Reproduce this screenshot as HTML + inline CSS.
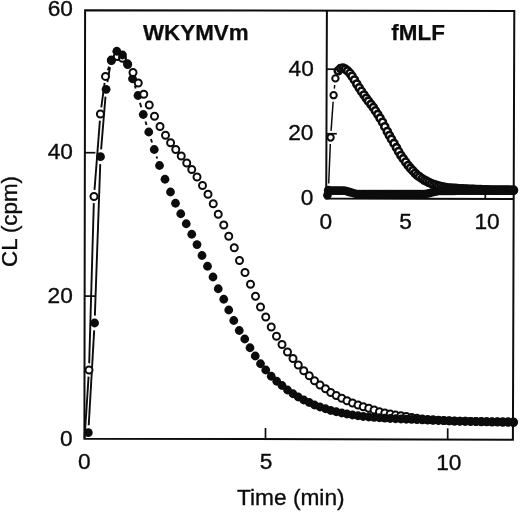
<!DOCTYPE html>
<html><head><meta charset="utf-8"><title>CL chart</title>
<style>html,body{margin:0;padding:0;background:#fff;}svg{display:block;filter:grayscale(1);}</style></head>
<body>
<svg width="520" height="512" viewBox="0 0 520 512">
<rect width="520" height="512" fill="#fff"/>
<g fill="none" stroke="#0c0c0c" stroke-width="2" stroke-linejoin="miter">
<polygon points="85.1,10.3 514.3,11 512.9,439.7 84.4,438.7"/>
<polyline points="326.9,10.6 326.2,198.5 513.4,198.9"/>
</g>
<g stroke="#0c0c0c" stroke-width="1.7">
<line x1="84.9" y1="152.7" x2="95.4" y2="152.7"/>
<line x1="84.7" y1="296.1" x2="95.2" y2="296.1"/>
<line x1="265.5" y1="428" x2="265.5" y2="439.2"/>
<line x1="447.7" y1="428.3" x2="447.7" y2="439.5"/>
<line x1="326.4" y1="69.2" x2="334.9" y2="69.2"/>
<line x1="326.3" y1="133.75" x2="336.8" y2="133.75"/>
<line x1="404.3" y1="190" x2="404.3" y2="198.6"/>
<line x1="485.3" y1="190" x2="485.3" y2="198.8"/>
</g>
<line x1="84.60" y1="438.00" x2="88.57" y2="376.59" stroke="#0c0c0c" stroke-width="1.9"/>
<line x1="89.19" y1="363.40" x2="93.81" y2="203.10" stroke="#0c0c0c" stroke-width="1.9"/>
<line x1="94.51" y1="189.92" x2="99.89" y2="120.58" stroke="#0c0c0c" stroke-width="1.9"/>
<line x1="101.29" y1="107.46" x2="104.61" y2="82.94" stroke="#0c0c0c" stroke-width="1.9"/>
<line x1="107.80" y1="70.21" x2="109.10" y2="66.69" stroke="#0c0c0c" stroke-width="1.9"/>
<line x1="88.72" y1="425.31" x2="94.18" y2="330.39" stroke="#0c0c0c" stroke-width="1.9"/>
<line x1="94.86" y1="315.60" x2="100.24" y2="164.10" stroke="#0c0c0c" stroke-width="1.9"/>
<line x1="101.11" y1="149.33" x2="105.49" y2="96.67" stroke="#0c0c0c" stroke-width="1.9"/>
<line x1="107.39" y1="82.01" x2="110.01" y2="67.29" stroke="#0c0c0c" stroke-width="1.9"/>
<line x1="129.84" y1="70.77" x2="130.16" y2="71.73" stroke="#0c0c0c" stroke-width="1.9"/>
<line x1="134.81" y1="85.78" x2="135.69" y2="88.47" stroke="#0c0c0c" stroke-width="1.9"/>
<line x1="139.97" y1="102.63" x2="141.28" y2="107.37" stroke="#0c0c0c" stroke-width="1.9"/>
<line x1="145.47" y1="121.56" x2="146.53" y2="124.94" stroke="#0c0c0c" stroke-width="1.9"/>
<line x1="150.97" y1="139.06" x2="152.03" y2="142.44" stroke="#0c0c0c" stroke-width="1.9"/>
<line x1="156.56" y1="156.53" x2="157.19" y2="158.47" stroke="#0c0c0c" stroke-width="1.9"/>
<circle cx="89.00" cy="370.00" r="3.5" fill="#fff" stroke="#0c0c0c" stroke-width="2.0"/>
<circle cx="94.00" cy="196.50" r="3.5" fill="#fff" stroke="#0c0c0c" stroke-width="2.0"/>
<circle cx="100.40" cy="114.00" r="3.5" fill="#fff" stroke="#0c0c0c" stroke-width="2.0"/>
<circle cx="105.50" cy="76.40" r="3.5" fill="#fff" stroke="#0c0c0c" stroke-width="2.0"/>
<circle cx="111.40" cy="60.50" r="3.5" fill="#fff" stroke="#0c0c0c" stroke-width="2.0"/>
<circle cx="117.30" cy="56.50" r="3.5" fill="#fff" stroke="#0c0c0c" stroke-width="2.0"/>
<circle cx="122.50" cy="58.30" r="3.5" fill="#fff" stroke="#0c0c0c" stroke-width="2.0"/>
<circle cx="127.70" cy="64.50" r="3.5" fill="#fff" stroke="#0c0c0c" stroke-width="2.0"/>
<circle cx="154.50" cy="116.25" r="3.5" fill="#fff" stroke="#0c0c0c" stroke-width="2.0"/>
<circle cx="160.00" cy="126.50" r="3.5" fill="#fff" stroke="#0c0c0c" stroke-width="2.0"/>
<circle cx="165.50" cy="135.25" r="3.5" fill="#fff" stroke="#0c0c0c" stroke-width="2.0"/>
<circle cx="170.60" cy="142.75" r="3.5" fill="#fff" stroke="#0c0c0c" stroke-width="2.0"/>
<circle cx="175.75" cy="149.50" r="3.5" fill="#fff" stroke="#0c0c0c" stroke-width="2.0"/>
<circle cx="181.25" cy="156.00" r="3.5" fill="#fff" stroke="#0c0c0c" stroke-width="2.0"/>
<circle cx="186.75" cy="163.00" r="3.5" fill="#fff" stroke="#0c0c0c" stroke-width="2.0"/>
<circle cx="191.75" cy="169.50" r="3.5" fill="#fff" stroke="#0c0c0c" stroke-width="2.0"/>
<circle cx="197.00" cy="177.00" r="3.5" fill="#fff" stroke="#0c0c0c" stroke-width="2.0"/>
<circle cx="202.50" cy="185.50" r="3.5" fill="#fff" stroke="#0c0c0c" stroke-width="2.0"/>
<circle cx="208.00" cy="194.25" r="3.5" fill="#fff" stroke="#0c0c0c" stroke-width="2.0"/>
<circle cx="213.25" cy="203.75" r="3.5" fill="#fff" stroke="#0c0c0c" stroke-width="2.0"/>
<circle cx="218.25" cy="214.25" r="3.5" fill="#fff" stroke="#0c0c0c" stroke-width="2.0"/>
<circle cx="223.75" cy="225.00" r="3.5" fill="#fff" stroke="#0c0c0c" stroke-width="2.0"/>
<circle cx="228.75" cy="236.25" r="3.5" fill="#fff" stroke="#0c0c0c" stroke-width="2.0"/>
<circle cx="234.25" cy="247.75" r="3.5" fill="#fff" stroke="#0c0c0c" stroke-width="2.0"/>
<circle cx="239.50" cy="260.50" r="3.5" fill="#fff" stroke="#0c0c0c" stroke-width="2.0"/>
<circle cx="245.00" cy="272.50" r="3.5" fill="#fff" stroke="#0c0c0c" stroke-width="2.0"/>
<circle cx="250.50" cy="284.25" r="3.5" fill="#fff" stroke="#0c0c0c" stroke-width="2.0"/>
<circle cx="255.50" cy="296.25" r="3.5" fill="#fff" stroke="#0c0c0c" stroke-width="2.0"/>
<circle cx="260.50" cy="307.00" r="3.5" fill="#fff" stroke="#0c0c0c" stroke-width="2.0"/>
<circle cx="265.75" cy="317.00" r="3.5" fill="#fff" stroke="#0c0c0c" stroke-width="2.0"/>
<circle cx="271.25" cy="327.00" r="3.5" fill="#fff" stroke="#0c0c0c" stroke-width="2.0"/>
<circle cx="276.50" cy="336.25" r="3.5" fill="#fff" stroke="#0c0c0c" stroke-width="2.0"/>
<circle cx="282.00" cy="344.50" r="3.5" fill="#fff" stroke="#0c0c0c" stroke-width="2.0"/>
<circle cx="287.50" cy="352.00" r="3.5" fill="#fff" stroke="#0c0c0c" stroke-width="2.0"/>
<circle cx="293.00" cy="358.50" r="3.5" fill="#fff" stroke="#0c0c0c" stroke-width="2.0"/>
<circle cx="298.25" cy="365.00" r="3.5" fill="#fff" stroke="#0c0c0c" stroke-width="2.0"/>
<circle cx="303.75" cy="370.75" r="3.5" fill="#fff" stroke="#0c0c0c" stroke-width="2.0"/>
<circle cx="309.25" cy="375.75" r="3.5" fill="#fff" stroke="#0c0c0c" stroke-width="2.0"/>
<circle cx="314.50" cy="380.75" r="3.5" fill="#fff" stroke="#0c0c0c" stroke-width="2.0"/>
<circle cx="320.00" cy="385.00" r="3.5" fill="#fff" stroke="#0c0c0c" stroke-width="2.0"/>
<circle cx="325.50" cy="388.75" r="3.5" fill="#fff" stroke="#0c0c0c" stroke-width="2.0"/>
<circle cx="330.75" cy="392.50" r="3.5" fill="#fff" stroke="#0c0c0c" stroke-width="2.0"/>
<circle cx="336.25" cy="395.50" r="3.5" fill="#fff" stroke="#0c0c0c" stroke-width="2.0"/>
<circle cx="341.75" cy="398.25" r="3.5" fill="#fff" stroke="#0c0c0c" stroke-width="2.0"/>
<circle cx="347.00" cy="400.75" r="3.5" fill="#fff" stroke="#0c0c0c" stroke-width="2.0"/>
<circle cx="352.50" cy="403.00" r="3.5" fill="#fff" stroke="#0c0c0c" stroke-width="2.0"/>
<circle cx="358.00" cy="405.00" r="3.5" fill="#fff" stroke="#0c0c0c" stroke-width="2.0"/>
<circle cx="363.25" cy="406.75" r="3.5" fill="#fff" stroke="#0c0c0c" stroke-width="2.0"/>
<circle cx="368.75" cy="408.25" r="3.5" fill="#fff" stroke="#0c0c0c" stroke-width="2.0"/>
<circle cx="374.11" cy="409.94" r="3.5" fill="#fff" stroke="#0c0c0c" stroke-width="2.0"/>
<circle cx="379.47" cy="411.63" r="3.5" fill="#fff" stroke="#0c0c0c" stroke-width="2.0"/>
<circle cx="384.83" cy="412.97" r="3.5" fill="#fff" stroke="#0c0c0c" stroke-width="2.0"/>
<circle cx="390.19" cy="414.04" r="3.5" fill="#fff" stroke="#0c0c0c" stroke-width="2.0"/>
<circle cx="395.55" cy="415.07" r="3.5" fill="#fff" stroke="#0c0c0c" stroke-width="2.0"/>
<circle cx="400.91" cy="415.72" r="3.5" fill="#fff" stroke="#0c0c0c" stroke-width="2.0"/>
<circle cx="406.27" cy="416.45" r="3.5" fill="#fff" stroke="#0c0c0c" stroke-width="2.0"/>
<circle cx="411.63" cy="417.41" r="3.5" fill="#fff" stroke="#0c0c0c" stroke-width="2.0"/>
<circle cx="416.99" cy="418.36" r="3.5" fill="#fff" stroke="#0c0c0c" stroke-width="2.0"/>
<circle cx="422.35" cy="419.06" r="3.5" fill="#fff" stroke="#0c0c0c" stroke-width="2.0"/>
<circle cx="427.71" cy="419.44" r="3.5" fill="#fff" stroke="#0c0c0c" stroke-width="2.0"/>
<circle cx="433.07" cy="419.81" r="3.5" fill="#fff" stroke="#0c0c0c" stroke-width="2.0"/>
<circle cx="438.43" cy="420.19" r="3.5" fill="#fff" stroke="#0c0c0c" stroke-width="2.0"/>
<circle cx="443.79" cy="420.48" r="3.5" fill="#fff" stroke="#0c0c0c" stroke-width="2.0"/>
<circle cx="449.15" cy="420.73" r="3.5" fill="#fff" stroke="#0c0c0c" stroke-width="2.0"/>
<circle cx="454.51" cy="420.98" r="3.5" fill="#fff" stroke="#0c0c0c" stroke-width="2.0"/>
<circle cx="459.87" cy="421.14" r="3.5" fill="#fff" stroke="#0c0c0c" stroke-width="2.0"/>
<circle cx="465.23" cy="421.29" r="3.5" fill="#fff" stroke="#0c0c0c" stroke-width="2.0"/>
<circle cx="470.59" cy="421.44" r="3.5" fill="#fff" stroke="#0c0c0c" stroke-width="2.0"/>
<circle cx="475.95" cy="421.59" r="3.5" fill="#fff" stroke="#0c0c0c" stroke-width="2.0"/>
<circle cx="481.31" cy="421.73" r="3.5" fill="#fff" stroke="#0c0c0c" stroke-width="2.0"/>
<circle cx="486.67" cy="421.86" r="3.5" fill="#fff" stroke="#0c0c0c" stroke-width="2.0"/>
<circle cx="492.03" cy="421.99" r="3.5" fill="#fff" stroke="#0c0c0c" stroke-width="2.0"/>
<circle cx="497.39" cy="422.12" r="3.5" fill="#fff" stroke="#0c0c0c" stroke-width="2.0"/>
<circle cx="502.75" cy="422.24" r="3.5" fill="#fff" stroke="#0c0c0c" stroke-width="2.0"/>
<circle cx="508.11" cy="422.37" r="3.5" fill="#fff" stroke="#0c0c0c" stroke-width="2.0"/>
<circle cx="513.47" cy="422.50" r="3.5" fill="#fff" stroke="#0c0c0c" stroke-width="2.0"/>
<circle cx="88.30" cy="432.70" r="4.4" fill="#0c0c0c"/>
<circle cx="94.60" cy="323.00" r="4.4" fill="#0c0c0c"/>
<circle cx="100.50" cy="156.70" r="4.4" fill="#0c0c0c"/>
<circle cx="106.10" cy="89.30" r="4.4" fill="#0c0c0c"/>
<circle cx="111.30" cy="60.00" r="4.4" fill="#0c0c0c"/>
<circle cx="116.80" cy="51.25" r="4.4" fill="#0c0c0c"/>
<circle cx="122.50" cy="55.00" r="4.4" fill="#0c0c0c"/>
<circle cx="127.50" cy="63.75" r="4.4" fill="#0c0c0c"/>
<circle cx="132.50" cy="78.75" r="4.4" fill="#0c0c0c"/>
<circle cx="138.00" cy="95.50" r="4.4" fill="#0c0c0c"/>
<circle cx="143.25" cy="114.50" r="4.4" fill="#0c0c0c"/>
<circle cx="148.75" cy="132.00" r="4.4" fill="#0c0c0c"/>
<circle cx="154.25" cy="149.50" r="4.4" fill="#0c0c0c"/>
<circle cx="159.50" cy="165.50" r="4.4" fill="#0c0c0c"/>
<circle cx="165.00" cy="179.25" r="4.4" fill="#0c0c0c"/>
<circle cx="170.50" cy="192.00" r="4.4" fill="#0c0c0c"/>
<circle cx="175.50" cy="203.25" r="4.4" fill="#0c0c0c"/>
<circle cx="180.75" cy="213.75" r="4.4" fill="#0c0c0c"/>
<circle cx="186.25" cy="223.75" r="4.4" fill="#0c0c0c"/>
<circle cx="191.75" cy="234.25" r="4.4" fill="#0c0c0c"/>
<circle cx="197.00" cy="244.60" r="4.4" fill="#0c0c0c"/>
<circle cx="202.00" cy="255.50" r="4.4" fill="#0c0c0c"/>
<circle cx="207.50" cy="266.25" r="4.4" fill="#0c0c0c"/>
<circle cx="213.00" cy="277.00" r="4.4" fill="#0c0c0c"/>
<circle cx="218.25" cy="288.75" r="4.4" fill="#0c0c0c"/>
<circle cx="223.75" cy="299.25" r="4.4" fill="#0c0c0c"/>
<circle cx="228.75" cy="310.00" r="4.4" fill="#0c0c0c"/>
<circle cx="233.75" cy="320.50" r="4.4" fill="#0c0c0c"/>
<circle cx="239.25" cy="330.50" r="4.4" fill="#0c0c0c"/>
<circle cx="244.75" cy="339.00" r="4.4" fill="#0c0c0c"/>
<circle cx="250.00" cy="347.75" r="4.4" fill="#0c0c0c"/>
<circle cx="255.25" cy="356.00" r="4.4" fill="#0c0c0c"/>
<circle cx="260.50" cy="363.75" r="4.4" fill="#0c0c0c"/>
<circle cx="265.75" cy="370.00" r="4.4" fill="#0c0c0c"/>
<circle cx="271.25" cy="376.25" r="4.4" fill="#0c0c0c"/>
<circle cx="276.75" cy="381.25" r="4.4" fill="#0c0c0c"/>
<circle cx="282.00" cy="385.50" r="4.4" fill="#0c0c0c"/>
<circle cx="287.50" cy="390.00" r="4.4" fill="#0c0c0c"/>
<circle cx="293.00" cy="393.75" r="4.4" fill="#0c0c0c"/>
<circle cx="298.25" cy="397.00" r="4.4" fill="#0c0c0c"/>
<circle cx="303.75" cy="400.00" r="4.4" fill="#0c0c0c"/>
<circle cx="309.25" cy="402.50" r="4.4" fill="#0c0c0c"/>
<circle cx="314.50" cy="405.00" r="4.4" fill="#0c0c0c"/>
<circle cx="320.00" cy="407.00" r="4.4" fill="#0c0c0c"/>
<circle cx="325.50" cy="408.75" r="4.4" fill="#0c0c0c"/>
<circle cx="330.75" cy="410.50" r="4.4" fill="#0c0c0c"/>
<circle cx="336.25" cy="411.75" r="4.4" fill="#0c0c0c"/>
<circle cx="341.75" cy="413.00" r="4.4" fill="#0c0c0c"/>
<circle cx="347.00" cy="414.00" r="4.4" fill="#0c0c0c"/>
<circle cx="352.50" cy="415.00" r="4.4" fill="#0c0c0c"/>
<circle cx="358.00" cy="415.75" r="4.4" fill="#0c0c0c"/>
<circle cx="363.25" cy="416.50" r="4.4" fill="#0c0c0c"/>
<circle cx="368.75" cy="417.00" r="4.4" fill="#0c0c0c"/>
<circle cx="374.11" cy="417.38" r="4.4" fill="#0c0c0c"/>
<circle cx="379.47" cy="417.76" r="4.4" fill="#0c0c0c"/>
<circle cx="384.83" cy="418.14" r="4.4" fill="#0c0c0c"/>
<circle cx="390.19" cy="418.51" r="4.4" fill="#0c0c0c"/>
<circle cx="395.55" cy="418.75" r="4.4" fill="#0c0c0c"/>
<circle cx="400.91" cy="418.99" r="4.4" fill="#0c0c0c"/>
<circle cx="406.27" cy="419.23" r="4.4" fill="#0c0c0c"/>
<circle cx="411.63" cy="419.47" r="4.4" fill="#0c0c0c"/>
<circle cx="416.99" cy="419.68" r="4.4" fill="#0c0c0c"/>
<circle cx="422.35" cy="419.89" r="4.4" fill="#0c0c0c"/>
<circle cx="427.71" cy="420.09" r="4.4" fill="#0c0c0c"/>
<circle cx="433.07" cy="420.29" r="4.4" fill="#0c0c0c"/>
<circle cx="438.43" cy="420.48" r="4.4" fill="#0c0c0c"/>
<circle cx="443.79" cy="420.68" r="4.4" fill="#0c0c0c"/>
<circle cx="449.15" cy="420.88" r="4.4" fill="#0c0c0c"/>
<circle cx="454.51" cy="421.08" r="4.4" fill="#0c0c0c"/>
<circle cx="459.87" cy="421.18" r="4.4" fill="#0c0c0c"/>
<circle cx="465.23" cy="421.26" r="4.4" fill="#0c0c0c"/>
<circle cx="470.59" cy="421.35" r="4.4" fill="#0c0c0c"/>
<circle cx="475.95" cy="421.44" r="4.4" fill="#0c0c0c"/>
<circle cx="481.31" cy="421.51" r="4.4" fill="#0c0c0c"/>
<circle cx="486.67" cy="421.56" r="4.4" fill="#0c0c0c"/>
<circle cx="492.03" cy="421.61" r="4.4" fill="#0c0c0c"/>
<circle cx="497.39" cy="421.66" r="4.4" fill="#0c0c0c"/>
<circle cx="502.75" cy="421.70" r="4.4" fill="#0c0c0c"/>
<circle cx="508.11" cy="421.75" r="4.4" fill="#0c0c0c"/>
<circle cx="513.47" cy="421.80" r="4.4" fill="#0c0c0c"/>
<circle cx="133.00" cy="72.50" r="3.5" fill="#fff" stroke="#0c0c0c" stroke-width="2.0"/>
<circle cx="138.25" cy="83.00" r="3.5" fill="#fff" stroke="#0c0c0c" stroke-width="2.0"/>
<circle cx="143.75" cy="94.25" r="3.5" fill="#fff" stroke="#0c0c0c" stroke-width="2.0"/>
<circle cx="149.25" cy="105.00" r="3.5" fill="#fff" stroke="#0c0c0c" stroke-width="2.0"/>
<line x1="328.68" y1="183.41" x2="330.32" y2="144.09" stroke="#0c0c0c" stroke-width="1.5"/>
<line x1="331.07" y1="130.92" x2="333.13" y2="101.78" stroke="#0c0c0c" stroke-width="1.5"/>
<line x1="334.30" y1="88.64" x2="334.70" y2="84.96" stroke="#0c0c0c" stroke-width="1.5"/>
<circle cx="328.40" cy="190.00" r="3.15" fill="#fff" stroke="#0c0c0c" stroke-width="2.0"/>
<circle cx="330.60" cy="137.50" r="3.15" fill="#fff" stroke="#0c0c0c" stroke-width="2.0"/>
<circle cx="333.60" cy="95.20" r="3.15" fill="#fff" stroke="#0c0c0c" stroke-width="2.0"/>
<circle cx="335.40" cy="78.40" r="3.15" fill="#fff" stroke="#0c0c0c" stroke-width="2.0"/>
<circle cx="338.20" cy="70.79" r="3.5" fill="#fff" stroke="#0c0c0c" stroke-width="2.6"/>
<circle cx="340.65" cy="68.50" r="3.5" fill="#fff" stroke="#0c0c0c" stroke-width="2.6"/>
<circle cx="343.00" cy="68.05" r="3.5" fill="#fff" stroke="#0c0c0c" stroke-width="2.6"/>
<circle cx="345.25" cy="69.08" r="3.5" fill="#fff" stroke="#0c0c0c" stroke-width="2.6"/>
<circle cx="347.56" cy="70.92" r="3.5" fill="#fff" stroke="#0c0c0c" stroke-width="2.6"/>
<circle cx="349.95" cy="73.32" r="3.5" fill="#fff" stroke="#0c0c0c" stroke-width="2.6"/>
<circle cx="352.00" cy="76.25" r="3.5" fill="#fff" stroke="#0c0c0c" stroke-width="2.6"/>
<circle cx="354.42" cy="79.96" r="3.5" fill="#fff" stroke="#0c0c0c" stroke-width="2.6"/>
<circle cx="356.77" cy="83.99" r="3.5" fill="#fff" stroke="#0c0c0c" stroke-width="2.6"/>
<circle cx="359.18" cy="87.78" r="3.5" fill="#fff" stroke="#0c0c0c" stroke-width="2.6"/>
<circle cx="361.45" cy="91.27" r="3.5" fill="#fff" stroke="#0c0c0c" stroke-width="2.6"/>
<circle cx="363.99" cy="94.94" r="3.5" fill="#fff" stroke="#0c0c0c" stroke-width="2.6"/>
<circle cx="366.23" cy="98.23" r="3.5" fill="#fff" stroke="#0c0c0c" stroke-width="2.6"/>
<circle cx="368.40" cy="101.14" r="3.5" fill="#fff" stroke="#0c0c0c" stroke-width="2.6"/>
<circle cx="370.92" cy="104.36" r="3.5" fill="#fff" stroke="#0c0c0c" stroke-width="2.6"/>
<circle cx="373.29" cy="107.46" r="3.5" fill="#fff" stroke="#0c0c0c" stroke-width="2.6"/>
<circle cx="375.40" cy="110.77" r="3.5" fill="#fff" stroke="#0c0c0c" stroke-width="2.6"/>
<circle cx="377.75" cy="114.37" r="3.5" fill="#fff" stroke="#0c0c0c" stroke-width="2.6"/>
<circle cx="380.06" cy="118.13" r="3.5" fill="#fff" stroke="#0c0c0c" stroke-width="2.6"/>
<circle cx="382.50" cy="122.22" r="3.5" fill="#fff" stroke="#0c0c0c" stroke-width="2.6"/>
<circle cx="384.75" cy="126.70" r="3.5" fill="#fff" stroke="#0c0c0c" stroke-width="2.6"/>
<circle cx="387.28" cy="131.51" r="3.5" fill="#fff" stroke="#0c0c0c" stroke-width="2.6"/>
<circle cx="389.38" cy="135.43" r="3.5" fill="#fff" stroke="#0c0c0c" stroke-width="2.6"/>
<circle cx="391.47" cy="139.14" r="3.5" fill="#fff" stroke="#0c0c0c" stroke-width="2.6"/>
<circle cx="393.99" cy="143.38" r="3.5" fill="#fff" stroke="#0c0c0c" stroke-width="2.6"/>
<circle cx="396.46" cy="147.63" r="3.5" fill="#fff" stroke="#0c0c0c" stroke-width="2.6"/>
<circle cx="398.60" cy="151.55" r="3.5" fill="#fff" stroke="#0c0c0c" stroke-width="2.6"/>
<circle cx="400.86" cy="155.44" r="3.5" fill="#fff" stroke="#0c0c0c" stroke-width="2.6"/>
<circle cx="403.21" cy="158.70" r="3.5" fill="#fff" stroke="#0c0c0c" stroke-width="2.6"/>
<circle cx="405.67" cy="162.05" r="3.5" fill="#fff" stroke="#0c0c0c" stroke-width="2.6"/>
<circle cx="408.08" cy="165.44" r="3.5" fill="#fff" stroke="#0c0c0c" stroke-width="2.6"/>
<circle cx="410.38" cy="168.13" r="3.5" fill="#fff" stroke="#0c0c0c" stroke-width="2.6"/>
<circle cx="412.75" cy="170.66" r="3.5" fill="#fff" stroke="#0c0c0c" stroke-width="2.6"/>
<circle cx="415.13" cy="173.24" r="3.5" fill="#fff" stroke="#0c0c0c" stroke-width="2.6"/>
<circle cx="417.37" cy="175.30" r="3.5" fill="#fff" stroke="#0c0c0c" stroke-width="2.6"/>
<circle cx="419.57" cy="176.86" r="3.5" fill="#fff" stroke="#0c0c0c" stroke-width="2.6"/>
<circle cx="422.15" cy="178.69" r="3.5" fill="#fff" stroke="#0c0c0c" stroke-width="2.6"/>
<circle cx="424.52" cy="180.26" r="3.5" fill="#fff" stroke="#0c0c0c" stroke-width="2.6"/>
<circle cx="426.74" cy="181.35" r="3.5" fill="#fff" stroke="#0c0c0c" stroke-width="2.6"/>
<circle cx="429.10" cy="182.50" r="3.5" fill="#fff" stroke="#0c0c0c" stroke-width="2.6"/>
<circle cx="431.56" cy="183.72" r="3.5" fill="#fff" stroke="#0c0c0c" stroke-width="2.6"/>
<circle cx="433.87" cy="184.49" r="3.5" fill="#fff" stroke="#0c0c0c" stroke-width="2.6"/>
<circle cx="436.25" cy="185.20" r="3.5" fill="#fff" stroke="#0c0c0c" stroke-width="2.6"/>
<circle cx="438.65" cy="185.93" r="3.5" fill="#fff" stroke="#0c0c0c" stroke-width="2.6"/>
<circle cx="440.96" cy="186.53" r="3.5" fill="#fff" stroke="#0c0c0c" stroke-width="2.6"/>
<circle cx="443.39" cy="187.09" r="3.5" fill="#fff" stroke="#0c0c0c" stroke-width="2.6"/>
<circle cx="445.76" cy="187.61" r="3.5" fill="#fff" stroke="#0c0c0c" stroke-width="2.6"/>
<circle cx="448.02" cy="188.02" r="3.5" fill="#fff" stroke="#0c0c0c" stroke-width="2.6"/>
<circle cx="450.42" cy="188.15" r="3.5" fill="#fff" stroke="#0c0c0c" stroke-width="2.6"/>
<circle cx="452.78" cy="188.30" r="3.5" fill="#fff" stroke="#0c0c0c" stroke-width="2.6"/>
<circle cx="455.09" cy="188.42" r="3.5" fill="#fff" stroke="#0c0c0c" stroke-width="2.6"/>
<circle cx="457.43" cy="188.55" r="3.5" fill="#fff" stroke="#0c0c0c" stroke-width="2.6"/>
<circle cx="459.79" cy="188.70" r="3.5" fill="#fff" stroke="#0c0c0c" stroke-width="2.6"/>
<circle cx="462.09" cy="188.81" r="3.5" fill="#fff" stroke="#0c0c0c" stroke-width="2.6"/>
<circle cx="464.47" cy="188.97" r="3.5" fill="#fff" stroke="#0c0c0c" stroke-width="2.6"/>
<circle cx="466.79" cy="189.06" r="3.5" fill="#fff" stroke="#0c0c0c" stroke-width="2.6"/>
<circle cx="469.16" cy="189.18" r="3.5" fill="#fff" stroke="#0c0c0c" stroke-width="2.6"/>
<circle cx="471.50" cy="189.28" r="3.5" fill="#fff" stroke="#0c0c0c" stroke-width="2.6"/>
<circle cx="473.83" cy="189.37" r="3.5" fill="#fff" stroke="#0c0c0c" stroke-width="2.6"/>
<circle cx="476.17" cy="189.46" r="3.5" fill="#fff" stroke="#0c0c0c" stroke-width="2.6"/>
<circle cx="478.48" cy="189.53" r="3.5" fill="#fff" stroke="#0c0c0c" stroke-width="2.6"/>
<circle cx="480.84" cy="189.64" r="3.5" fill="#fff" stroke="#0c0c0c" stroke-width="2.6"/>
<circle cx="483.15" cy="189.72" r="3.5" fill="#fff" stroke="#0c0c0c" stroke-width="2.6"/>
<circle cx="485.51" cy="189.82" r="3.5" fill="#fff" stroke="#0c0c0c" stroke-width="2.6"/>
<circle cx="487.82" cy="189.90" r="3.5" fill="#fff" stroke="#0c0c0c" stroke-width="2.6"/>
<circle cx="490.17" cy="190.00" r="3.5" fill="#fff" stroke="#0c0c0c" stroke-width="2.6"/>
<circle cx="492.47" cy="189.99" r="3.5" fill="#fff" stroke="#0c0c0c" stroke-width="2.6"/>
<circle cx="494.83" cy="190.02" r="3.5" fill="#fff" stroke="#0c0c0c" stroke-width="2.6"/>
<circle cx="497.23" cy="190.09" r="3.5" fill="#fff" stroke="#0c0c0c" stroke-width="2.6"/>
<circle cx="499.50" cy="190.06" r="3.5" fill="#fff" stroke="#0c0c0c" stroke-width="2.6"/>
<circle cx="501.88" cy="190.11" r="3.5" fill="#fff" stroke="#0c0c0c" stroke-width="2.6"/>
<circle cx="504.21" cy="190.13" r="3.5" fill="#fff" stroke="#0c0c0c" stroke-width="2.6"/>
<circle cx="506.56" cy="190.15" r="3.5" fill="#fff" stroke="#0c0c0c" stroke-width="2.6"/>
<circle cx="508.87" cy="190.15" r="3.5" fill="#fff" stroke="#0c0c0c" stroke-width="2.6"/>
<circle cx="511.22" cy="190.18" r="3.5" fill="#fff" stroke="#0c0c0c" stroke-width="2.6"/>
<circle cx="513.51" cy="190.16" r="3.5" fill="#fff" stroke="#0c0c0c" stroke-width="2.6"/>
<circle cx="327.40" cy="195.30" r="4.3" fill="#0c0c0c"/>
<circle cx="328.16" cy="190.60" r="4.3" fill="#0c0c0c"/>
<circle cx="330.90" cy="190.60" r="4.3" fill="#0c0c0c"/>
<circle cx="333.48" cy="190.60" r="4.3" fill="#0c0c0c"/>
<circle cx="335.92" cy="190.60" r="4.3" fill="#0c0c0c"/>
<circle cx="338.19" cy="190.60" r="4.3" fill="#0c0c0c"/>
<circle cx="340.58" cy="190.60" r="4.3" fill="#0c0c0c"/>
<circle cx="343.07" cy="190.60" r="4.3" fill="#0c0c0c"/>
<circle cx="345.25" cy="190.68" r="4.3" fill="#0c0c0c"/>
<circle cx="347.43" cy="191.35" r="4.3" fill="#0c0c0c"/>
<circle cx="349.83" cy="192.09" r="4.3" fill="#0c0c0c"/>
<circle cx="352.12" cy="192.80" r="4.3" fill="#0c0c0c"/>
<circle cx="354.52" cy="193.54" r="4.3" fill="#0c0c0c"/>
<circle cx="356.91" cy="194.00" r="4.3" fill="#0c0c0c"/>
<circle cx="359.20" cy="194.00" r="4.3" fill="#0c0c0c"/>
<circle cx="361.60" cy="194.00" r="4.3" fill="#0c0c0c"/>
<circle cx="364.00" cy="194.00" r="4.3" fill="#0c0c0c"/>
<circle cx="366.18" cy="194.00" r="4.3" fill="#0c0c0c"/>
<circle cx="368.47" cy="194.00" r="4.3" fill="#0c0c0c"/>
<circle cx="370.87" cy="194.00" r="4.3" fill="#0c0c0c"/>
<circle cx="373.27" cy="194.00" r="4.3" fill="#0c0c0c"/>
<circle cx="375.55" cy="194.00" r="4.3" fill="#0c0c0c"/>
<circle cx="377.73" cy="194.00" r="4.3" fill="#0c0c0c"/>
<circle cx="380.13" cy="194.00" r="4.3" fill="#0c0c0c"/>
<circle cx="382.53" cy="194.00" r="4.3" fill="#0c0c0c"/>
<circle cx="384.82" cy="194.00" r="4.3" fill="#0c0c0c"/>
<circle cx="387.22" cy="194.00" r="4.3" fill="#0c0c0c"/>
<circle cx="389.40" cy="194.00" r="4.3" fill="#0c0c0c"/>
<circle cx="391.58" cy="194.00" r="4.3" fill="#0c0c0c"/>
<circle cx="393.98" cy="194.00" r="4.3" fill="#0c0c0c"/>
<circle cx="396.38" cy="194.00" r="4.3" fill="#0c0c0c"/>
<circle cx="398.66" cy="194.00" r="4.3" fill="#0c0c0c"/>
<circle cx="400.95" cy="194.00" r="4.3" fill="#0c0c0c"/>
<circle cx="403.24" cy="194.00" r="4.3" fill="#0c0c0c"/>
<circle cx="405.53" cy="194.00" r="4.3" fill="#0c0c0c"/>
<circle cx="407.93" cy="194.00" r="4.3" fill="#0c0c0c"/>
<circle cx="410.33" cy="194.00" r="4.3" fill="#0c0c0c"/>
<circle cx="412.62" cy="194.00" r="4.3" fill="#0c0c0c"/>
<circle cx="415.02" cy="194.00" r="4.3" fill="#0c0c0c"/>
<circle cx="417.41" cy="194.00" r="4.3" fill="#0c0c0c"/>
<circle cx="419.70" cy="194.00" r="4.3" fill="#0c0c0c"/>
<circle cx="422.10" cy="194.00" r="4.3" fill="#0c0c0c"/>
<circle cx="424.50" cy="194.00" r="4.3" fill="#0c0c0c"/>
<circle cx="426.79" cy="193.80" r="4.3" fill="#0c0c0c"/>
<circle cx="429.19" cy="193.18" r="4.3" fill="#0c0c0c"/>
<circle cx="431.59" cy="192.56" r="4.3" fill="#0c0c0c"/>
<circle cx="433.87" cy="191.97" r="4.3" fill="#0c0c0c"/>
<circle cx="436.27" cy="191.35" r="4.3" fill="#0c0c0c"/>
<circle cx="438.67" cy="190.90" r="4.3" fill="#0c0c0c"/>
<circle cx="440.96" cy="190.89" r="4.3" fill="#0c0c0c"/>
<circle cx="443.36" cy="190.88" r="4.3" fill="#0c0c0c"/>
<circle cx="445.76" cy="190.87" r="4.3" fill="#0c0c0c"/>
<circle cx="448.05" cy="190.86" r="4.3" fill="#0c0c0c"/>
<circle cx="450.44" cy="190.85" r="4.3" fill="#0c0c0c"/>
<circle cx="452.78" cy="190.84" r="4.3" fill="#0c0c0c"/>
<circle cx="455.12" cy="190.83" r="4.3" fill="#0c0c0c"/>
<circle cx="457.46" cy="190.82" r="4.3" fill="#0c0c0c"/>
<circle cx="459.79" cy="190.81" r="4.3" fill="#0c0c0c"/>
<circle cx="462.13" cy="190.81" r="4.3" fill="#0c0c0c"/>
<circle cx="464.47" cy="190.80" r="4.3" fill="#0c0c0c"/>
<circle cx="466.80" cy="190.79" r="4.3" fill="#0c0c0c"/>
<circle cx="469.14" cy="190.78" r="4.3" fill="#0c0c0c"/>
<circle cx="471.48" cy="190.77" r="4.3" fill="#0c0c0c"/>
<circle cx="473.82" cy="190.76" r="4.3" fill="#0c0c0c"/>
<circle cx="476.15" cy="190.75" r="4.3" fill="#0c0c0c"/>
<circle cx="478.49" cy="190.74" r="4.3" fill="#0c0c0c"/>
<circle cx="480.83" cy="190.73" r="4.3" fill="#0c0c0c"/>
<circle cx="483.16" cy="190.72" r="4.3" fill="#0c0c0c"/>
<circle cx="485.50" cy="190.71" r="4.3" fill="#0c0c0c"/>
<circle cx="487.84" cy="190.70" r="4.3" fill="#0c0c0c"/>
<circle cx="490.18" cy="190.70" r="4.3" fill="#0c0c0c"/>
<circle cx="492.51" cy="190.69" r="4.3" fill="#0c0c0c"/>
<circle cx="494.85" cy="190.68" r="4.3" fill="#0c0c0c"/>
<circle cx="497.19" cy="190.67" r="4.3" fill="#0c0c0c"/>
<circle cx="499.52" cy="190.66" r="4.3" fill="#0c0c0c"/>
<circle cx="501.86" cy="190.65" r="4.3" fill="#0c0c0c"/>
<circle cx="504.20" cy="190.64" r="4.3" fill="#0c0c0c"/>
<circle cx="506.54" cy="190.63" r="4.3" fill="#0c0c0c"/>
<circle cx="508.87" cy="190.62" r="4.3" fill="#0c0c0c"/>
<circle cx="511.21" cy="190.61" r="4.3" fill="#0c0c0c"/>
<circle cx="513.55" cy="190.60" r="4.3" fill="#0c0c0c"/>
<text x="73.0" y="16.0" text-anchor="end" font-size="22.7" stroke="#0c0c0c" stroke-width="0.35" font-family="Liberation Sans, sans-serif" fill="#0c0c0c" >60</text>
<text x="73.0" y="159.2" text-anchor="end" font-size="22.7" stroke="#0c0c0c" stroke-width="0.35" font-family="Liberation Sans, sans-serif" fill="#0c0c0c" >40</text>
<text x="72.8" y="302.5" text-anchor="end" font-size="22.7" stroke="#0c0c0c" stroke-width="0.35" font-family="Liberation Sans, sans-serif" fill="#0c0c0c" >20</text>
<text x="72.6" y="445.6" text-anchor="end" font-size="22.7" stroke="#0c0c0c" stroke-width="0.35" font-family="Liberation Sans, sans-serif" fill="#0c0c0c" >0</text>
<text x="84.35" y="469.2" text-anchor="middle" font-size="22.7" stroke="#0c0c0c" stroke-width="0.35" font-family="Liberation Sans, sans-serif" fill="#0c0c0c" >0</text>
<text x="266" y="469.2" text-anchor="middle" font-size="22.7" stroke="#0c0c0c" stroke-width="0.35" font-family="Liberation Sans, sans-serif" fill="#0c0c0c" >5</text>
<text x="448.85" y="469.5" text-anchor="middle" font-size="22.7" stroke="#0c0c0c" stroke-width="0.35" font-family="Liberation Sans, sans-serif" fill="#0c0c0c" >10</text>
<text x="290.8" y="504.9" text-anchor="middle" font-size="22.7" stroke="#0c0c0c" stroke-width="0.35" font-family="Liberation Sans, sans-serif" fill="#0c0c0c" >Time (min)</text>
<text x="0" y="0" text-anchor="middle" font-size="22.3" stroke="#0c0c0c" stroke-width="0.35" font-family="Liberation Sans, sans-serif" fill="#0c0c0c" transform="translate(17.4,221.5) rotate(-90)">CL (cpm)</text>
<text x="195.8" y="40.0" text-anchor="middle" font-size="22.4" font-weight="bold" stroke="#0c0c0c" stroke-width="0.25" font-family="Liberation Sans, sans-serif" fill="#0c0c0c" >WKYMVm</text>
<text x="418.1" y="40.4" text-anchor="middle" font-size="22.4" font-weight="bold" stroke="#0c0c0c" stroke-width="0.25" font-family="Liberation Sans, sans-serif" fill="#0c0c0c" >fMLF</text>
<text x="313.8" y="75.8" text-anchor="end" font-size="22.7" stroke="#0c0c0c" stroke-width="0.35" font-family="Liberation Sans, sans-serif" fill="#0c0c0c" >40</text>
<text x="313.4" y="140.0" text-anchor="end" font-size="22.7" stroke="#0c0c0c" stroke-width="0.35" font-family="Liberation Sans, sans-serif" fill="#0c0c0c" >20</text>
<text x="313.4" y="204.5" text-anchor="end" font-size="22.7" stroke="#0c0c0c" stroke-width="0.35" font-family="Liberation Sans, sans-serif" fill="#0c0c0c" >0</text>
<text x="325.75" y="229.3" text-anchor="middle" font-size="22.7" stroke="#0c0c0c" stroke-width="0.35" font-family="Liberation Sans, sans-serif" fill="#0c0c0c" >0</text>
<text x="405.6" y="229.3" text-anchor="middle" font-size="22.7" stroke="#0c0c0c" stroke-width="0.35" font-family="Liberation Sans, sans-serif" fill="#0c0c0c" >5</text>
<text x="487" y="229.3" text-anchor="middle" font-size="22.7" stroke="#0c0c0c" stroke-width="0.35" font-family="Liberation Sans, sans-serif" fill="#0c0c0c" >10</text>
</svg>
</body></html>
